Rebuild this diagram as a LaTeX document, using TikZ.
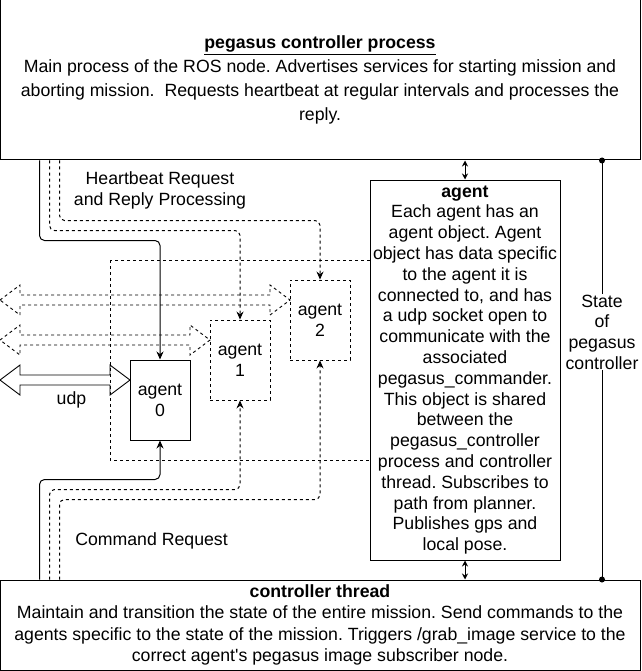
\documentclass[tikz,border=0pt]{standalone}
\usepackage{fontspec}
\setmainfont{Liberation Sans}
\usetikzlibrary{arrows.meta}
\frenchspacing
\begin{document}
\begin{tikzpicture}[x=1pt,y=-1pt,
  every node/.style={font=\fontsize{17.7}{21}\selectfont},
  box/.style={draw,line width=1pt,fill=white,inner sep=0pt,align=center},
  agentbox/.style={box,minimum width=60pt,minimum height=80pt},
  agentboxd/.style={agentbox,dash pattern=on 3pt off 3pt,line width=0.9pt},
  conn/.style={line width=1pt,rounded corners=5pt,-{Stealth[length=8pt,width=7pt]}},
  connd/.style={conn,dash pattern=on 3pt off 3pt},
  udparrow/.style={line width=0.9pt},
  udparrowd/.style={udparrow,dash pattern=on 3pt off 3pt},
  dbl/.style={line width=1pt,{Stealth[length=6pt,width=6pt]}-{Stealth[length=6pt,width=6pt]}},
  lbl/.style={inner sep=1pt,align=center}
]
\useasboundingbox (0,0) rectangle (641,671);

% shared dashed region
\draw[dash pattern=on 3pt off 3pt,line width=0.9pt] (110,260) rectangle (370,460);

% boxes
\node[box,minimum width=640pt,minimum height=160pt,
      font=\fontsize{17.7}{23.8}\selectfont] (top) at (320,80)
  {\underline{\textbf{pegasus controller process}}\\
   Main process of the ROS node. Advertises services for starting mission and\\
   aborting mission.~ Requests heartbeat at regular intervals and processes the\\
   reply.};
\node[box,minimum width=640pt,minimum height=90pt,
      font=\fontsize{17.7}{21.2}\selectfont] (bot) at (320,625)
  {\textbf{controller thread}\\
   Maintain and transition the state of the entire mission. Send commands to the\\
   agents specific to the state of the mission. Triggers /grab\_image service to the\\
   correct agent\textquotesingle s pegasus image subscriber node.};
\node[box,minimum width=190pt,minimum height=380pt,
      font=\fontsize{17.7}{20.8}\selectfont] (agentobj) at (465,370)
  {\textbf{agent}\\
   Each agent has an\\
   agent object. Agent\\
   object has data specific\\
   to the agent it is\\
   connected to, and has\\
   a udp socket open to\\
   communicate with the\\
   associated\\
   pegasus\_commander.\\
   This object is shared\\
   between the\\
   pegasus\_controller\\
   process and controller\\
   thread. Subscribes to\\
   path from planner.\\
   Publishes gps and\\
   local pose.};

% agents
\node[agentbox,font=\fontsize{17.7}{20.8}\selectfont] (a0) at (160,400) {agent\\0};
\node[agentboxd,font=\fontsize{17.7}{20.8}\selectfont] (a1) at (240,360) {agent\\1};
\node[agentboxd,font=\fontsize{17.7}{20.8}\selectfont] (a2) at (320,320) {agent\\2};

% udp arrows
\draw[udparrow] (0,380) -- (20,365) -- (20,375) -- (110,375) -- (110,365) -- (130,380)
  -- (110,395) -- (110,385) -- (20,385) -- (20,395) -- cycle;
\draw[udparrowd] (0,340) -- (20,325) -- (20,335) -- (190,335) -- (190,325) -- (210,340)
  -- (190,355) -- (190,345) -- (20,345) -- (20,355) -- cycle;
\draw[udparrowd] (0,300) -- (20,285) -- (20,295) -- (270,295) -- (270,285) -- (290,300)
  -- (270,315) -- (270,305) -- (20,305) -- (20,315) -- cycle;
\node[lbl] (udp) at (71.5,400) {udp};

% heartbeat connectors
\draw[conn]  ([xshift=40pt]top.south west) -- ++(0,80) -| (a0.north);
\draw[connd] ([xshift=50pt]top.south west) -- ++(0,70) -| (a1.north);
\draw[connd] ([xshift=60pt]top.south west) -- ++(0,60) -| (a2.north);
\node[lbl] (hb) at (160,190.5) {Heartbeat Request\\and Reply Processing};

% command connectors
\draw[conn]  ([xshift=40pt]bot.north west) -- ++(0,-100) -| (a0.south);
\draw[connd] ([xshift=50pt]bot.north west) -- ++(0,-90) -| (a1.south);
\draw[connd] ([xshift=60pt]bot.north west) -- ++(0,-80) -| (a2.south);
\node[lbl] (cmd) at (151.5,541) {Command Request};

% shared object links
\draw[dbl] (agentobj.north |- top.south) -- (agentobj.north);
\draw[dbl] (agentobj.south) -- (agentobj.south |- bot.north);

% state line
\coordinate (s1) at (top.south -| 602,0);
\coordinate (s2) at (bot.north -| 602,0);
\draw[line width=1pt] (s1) -- (s2);
\fill (s1) circle (3pt);
\fill (s2) circle (3pt);
\node[lbl,fill=white,font=\fontsize{17.7}{20.7}\selectfont] (state) at (602,332)
  {State\\of\\pegasus\\controller};
\end{tikzpicture}
\end{document}
